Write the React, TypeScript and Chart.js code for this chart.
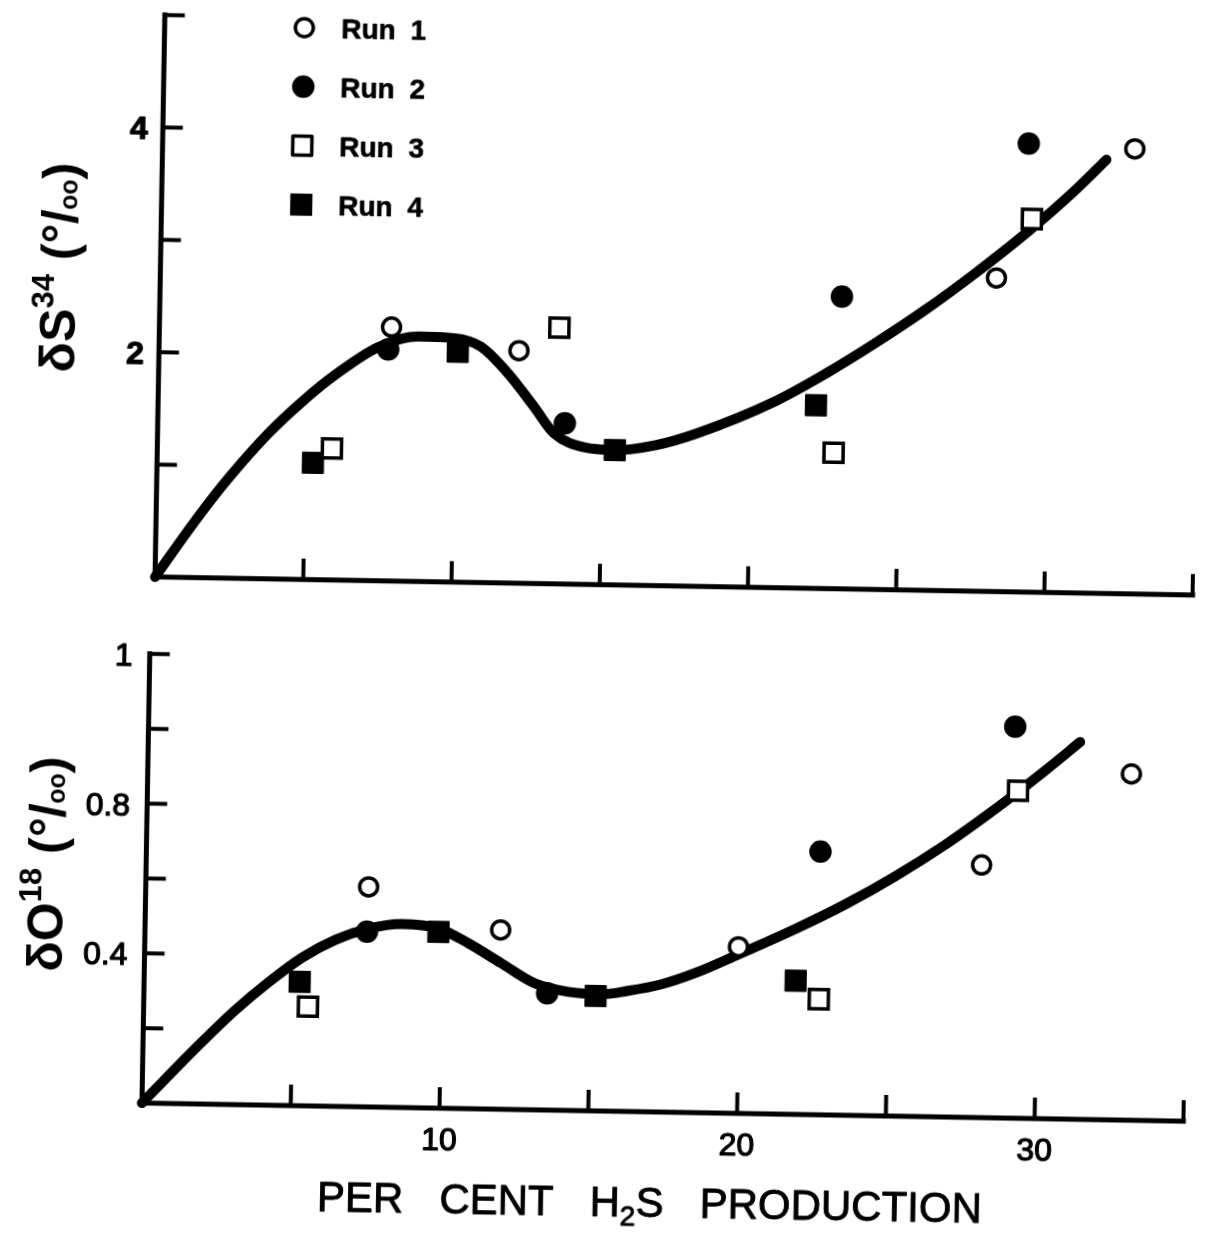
import { useEffect, useRef } from "react";
import { Chart, registerables } from "chart.js";

Chart.register(...registerables);

const FONT = '"Liberation Sans", Arial, sans-serif';

// Legend entries
const runLabels = ["Run 1", "Run 2", "Run 3", "Run 4"];

// Shared x axis: per cent H2S production
const xMin = 0;
const xMax = 35;
const xTickValues = [5, 10, 15, 20, 25, 30, 35];
const xTickLabelsTop = ["", "", "", "", "", "", ""];
const xTickLabelsBottom = ["", "10", "", "20", "", "30", ""];

// Upper panel: delta S34 (per mil)
const sYMax = 5;
const sYTickValues = [1, 2, 3, 4, 5];
const sYTickLabels = ["", "2", "", "4", ""];
const sRun1X = [7.83, 12.14, 28.2, 32.79];
const sRun1Y = [2.26, 2.07, 2.79, 3.96];
const sRun2X = [7.73, 13.73, 23.0, 29.21];
const sRun2Y = [2.06, 1.43, 2.6, 3.99];
const sRun3X = [5.89, 13.49, 22.81, 29.36];
const sRun3Y = [1.17, 2.28, 1.21, 3.32];
const sRun4X = [5.26, 10.08, 15.43, 22.19];
const sRun4Y = [1.04, 2.05, 1.2, 1.63];
const sCurveX = [0, 1.47, 2.45, 3.76, 4.85, 5.98, 7.4, 8.73, 9.97, 10.85, 11.77, 12.69, 13.37, 14.39, 15.39, 16.8, 18.17, 20.82, 22.48, 24.14, 25.79, 27.44, 29.2, 30.75, 31.84];
const sCurveY = [0, 0.56, 0.9, 1.3, 1.58, 1.83, 2.08, 2.18, 2.17, 2.1, 1.87, 1.57, 1.34, 1.22, 1.2, 1.25, 1.36, 1.66, 1.91, 2.19, 2.49, 2.82, 3.2, 3.57, 3.86];

// Lower panel: delta O18 (per mil)
const oYMax = 1.2;
const oYTickValues = [0.2, 0.4, 0.6, 0.8, 1.0, 1.2];
const oYTickLabels = ["", "0.4", "", "0.8", "", "1"];
const oRun1X = [7.49, 11.95, 19.95, 28.07, 33.05];
const oRun1Y = [0.588, 0.479, 0.445, 0.675, 0.925];
const oRun2X = [7.46, 13.55, 22.65, 29.12];
const oRun2Y = [0.468, 0.312, 0.703, 1.046];
const oRun3X = [5.52, 22.68, 29.25];
const oRun3Y = [0.265, 0.309, 0.875];
const oRun4X = [5.23, 9.86, 15.18, 21.89];
const oRun4Y = [0.331, 0.471, 0.307, 0.357];
const oCurveX = [0, 1.91, 3.05, 4.21, 5.3, 6.41, 7.46, 8.63, 9.86, 10.87, 11.99, 13.12, 14.24, 15.35, 16.24, 17.41, 18.57, 19.96, 21.89, 23.55, 25.2, 26.85, 27.95, 29.22, 30.15, 31.31];
const oCurveY = [0, 0.16, 0.25, 0.33, 0.396, 0.445, 0.475, 0.49, 0.48, 0.442, 0.39, 0.338, 0.317, 0.312, 0.322, 0.342, 0.375, 0.425, 0.497, 0.565, 0.642, 0.728, 0.792, 0.87, 0.93, 1.008];

type Marker = { style: "circle" | "rect"; radius: number; fill: string; border: number };

const runMarkers: Marker[] = [
  { style: "circle", radius: 9, fill: "#fff", border: 3.5 },
  { style: "circle", radius: 10.5, fill: "#000", border: 1.5 },
  { style: "rect", radius: 13.5, fill: "#fff", border: 3.5 },
  { style: "rect", radius: 15, fill: "#000", border: 1 },
];

type Piece = { text: string; size: number; weight?: string; dy?: number };

type PanelSpec = {
  top: number;
  height: number;
  padding: { left: number; right: number; top: number; bottom: number };
  runs: { x: number[]; y: number[] }[];
  curveX: number[];
  curveY: number[];
  yMax: number;
  yTicks: number[];
  yLabels: string[];
  yLabelFont: string;
  yLabelGap: number;
  xLabels: string[];
  title: Piece[];
  titleX: number;
  titleY: number;
  legend: boolean;
  xTitle: boolean;
};

const zip = (xs: number[], ys: number[]) => xs.map((x, i) => ({ x, y: ys[i] }));

function pieceFont(p: Piece) {
  return `${p.weight ?? "normal"} ${p.size}px ${FONT}`;
}

function measurePieces(ctx: CanvasRenderingContext2D, pieces: Piece[]) {
  return pieces.map((p) => {
    ctx.font = pieceFont(p);
    return ctx.measureText(p.text).width;
  });
}

// Filled text with an optional thin outline to give a heavier stroke
function heavyText(ctx: CanvasRenderingContext2D, text: string, x: number, y: number, stroke: number) {
  ctx.fillText(text, x, y);
  if (stroke > 0) {
    ctx.lineWidth = stroke;
    ctx.lineJoin = "round";
    ctx.strokeStyle = "#000";
    ctx.strokeText(text, x, y);
  }
}

function drawPieces(ctx: CanvasRenderingContext2D, pieces: Piece[], x: number, y: number, stroke = 0) {
  const widths = measurePieces(ctx, pieces);
  let cx = x;
  pieces.forEach((p, i) => {
    ctx.font = pieceFont(p);
    heavyText(ctx, p.text, cx, y + (p.dy ?? 0), stroke);
    cx += widths[i];
  });
  return cx - x;
}

function drawMarker(ctx: CanvasRenderingContext2D, m: Marker, x: number, y: number) {
  ctx.beginPath();
  if (m.style === "circle") {
    ctx.arc(x, y, m.radius, 0, Math.PI * 2);
  } else {
    const h = m.radius * Math.SQRT1_2;
    ctx.rect(x - h, y - h, 2 * h, 2 * h);
  }
  ctx.fillStyle = m.fill;
  ctx.fill();
  ctx.lineWidth = m.border;
  ctx.strokeStyle = "#000";
  ctx.stroke();
}

function framePlugin(spec: PanelSpec) {
  return {
    id: "frame",
    afterDraw(chart: Chart) {
      const ctx = chart.ctx;
      const xs = chart.scales.x;
      const ys = chart.scales.y;
      const L = xs.getPixelForValue(xMin);
      const R = xs.getPixelForValue(xMax);
      const B = ys.getPixelForValue(0);
      const T = ys.getPixelForValue(spec.yMax);
      ctx.save();
      ctx.strokeStyle = "#000";
      ctx.fillStyle = "#000";

      // axis lines
      ctx.lineWidth = 5;
      ctx.lineCap = "square";
      ctx.lineJoin = "miter";
      ctx.beginPath();
      ctx.moveTo(L, T);
      ctx.lineTo(L, B);
      ctx.lineTo(R, B);
      ctx.stroke();

      // inward tick marks
      ctx.lineCap = "butt";
      ctx.lineWidth = 4;
      xTickValues.forEach((v) => {
        const px = xs.getPixelForValue(v);
        ctx.beginPath();
        ctx.moveTo(px, B);
        ctx.lineTo(px, B - 21);
        ctx.stroke();
      });
      spec.yTicks.forEach((v) => {
        const py = ys.getPixelForValue(v);
        ctx.beginPath();
        ctx.moveTo(L, py);
        ctx.lineTo(L + 20, py);
        ctx.stroke();
      });

      // tick labels
      ctx.textBaseline = "alphabetic";
      ctx.textAlign = "right";
      ctx.font = spec.yLabelFont;
      spec.yTicks.forEach((v, i) => {
        if (!spec.yLabels[i]) return;
        const py = ys.getPixelForValue(v);
        heavyText(ctx, spec.yLabels[i], L - spec.yLabelGap, py + 12, 1.2);
      });
      ctx.textAlign = "center";
      ctx.font = `normal 32px ${FONT}`;
      xTickValues.forEach((v, i) => {
        if (!spec.xLabels[i]) return;
        const px = xs.getPixelForValue(v);
        heavyText(ctx, spec.xLabels[i], px, B + 30 + 11.5, 1.2);
      });

      // rotated y title
      ctx.textAlign = "left";
      ctx.save();
      ctx.translate(spec.titleX, spec.titleY);
      ctx.rotate(-Math.PI / 2);
      const tw = measurePieces(ctx, spec.title).reduce((a, b) => a + b, 0);
      drawPieces(ctx, spec.title, -tw / 2, 0);
      ctx.restore();

      // x title
      if (spec.xTitle) {
        const words: Piece[][] = [
          [{ text: "PER", size: 42 }],
          [{ text: "CENT", size: 42 }],
          [
            { text: "H", size: 42 },
            { text: "2", size: 28, dy: 9 },
            { text: "S", size: 42 },
          ],
          [{ text: "PRODUCTION", size: 42 }],
        ];
        const widths = words.map((w) => measurePieces(ctx, w).reduce((a, b) => a + b, 0));
        const x0 = 327;
        const x1 = 992;
        const gap = (x1 - x0 - widths.reduce((a, b) => a + b, 0)) / (words.length - 1);
        let cx = x0;
        ctx.fillStyle = "#000";
        words.forEach((w, i) => {
          drawPieces(ctx, w, cx, 596, 0.9);
          cx += widths[i] + gap;
        });
      }

      // legend
      if (spec.legend) {
        runLabels.forEach((label, i) => {
          const cy = 33 + i * 59;
          drawMarker(ctx, runMarkers[i], 294, cy);
          ctx.fillStyle = "#000";
          ctx.font = `bold 28px ${FONT}`;
          ctx.textAlign = "left";
          (ctx as any).wordSpacing = "7px";
          heavyText(ctx, label, 331, cy + 10, 0.6);
          (ctx as any).wordSpacing = "0px";
        });
      }
      ctx.restore();
    },
  };
}

function buildDatasets(spec: PanelSpec) {
  const markers = spec.runs.map((r, i) => ({
    label: runLabels[i],
    data: zip(r.x, r.y),
    showLine: false,
    pointStyle: runMarkers[i].style,
    pointRadius: runMarkers[i].radius,
    pointBackgroundColor: runMarkers[i].fill,
    pointBorderColor: "#000",
    pointBorderWidth: runMarkers[i].border,
    clip: false as const,
  }));
  const curve = {
    label: "fit",
    data: zip(spec.curveX, spec.curveY),
    showLine: true,
    borderColor: "#000",
    borderWidth: 10,
    borderCapStyle: "round" as const,
    borderJoinStyle: "round" as const,
    cubicInterpolationMode: "monotone" as const,
    pointRadius: 0,
    fill: false,
    clip: false as const,
  };
  // curve last so it is painted beneath the markers
  return [...markers, curve];
}

function Panel({ spec }: { spec: PanelSpec }) {
  const ref = useRef<HTMLCanvasElement>(null);
  useEffect(() => {
    const canvas = ref.current;
    if (!canvas) return;
    const chart = new Chart(canvas, {
      type: "scatter",
      data: { datasets: buildDatasets(spec) as any },
      options: {
        responsive: false,
        animation: false,
        devicePixelRatio: 1,
        events: [],
        layout: { padding: spec.padding },
        scales: {
          x: { type: "linear", min: xMin, max: xMax, display: false },
          y: { type: "linear", min: 0, max: spec.yMax, display: false },
        },
        plugins: { legend: { display: false }, tooltip: { enabled: false } },
      },
      plugins: [framePlugin(spec) as any],
    });
    return () => chart.destroy();
  }, [spec]);
  return (
    <canvas
      ref={ref}
      width={1209}
      height={spec.height}
      style={{ position: "absolute", left: 0, top: spec.top, width: 1209, height: spec.height }}
    />
  );
}

const upperPanel: PanelSpec = {
  top: 0,
  height: 620,
  padding: { left: 154.3, right: 9.6, top: 22.8, bottom: 35.2 },
  runs: [
    { x: sRun1X, y: sRun1Y },
    { x: sRun2X, y: sRun2Y },
    { x: sRun3X, y: sRun3Y },
    { x: sRun4X, y: sRun4Y },
  ],
  curveX: sCurveX,
  curveY: sCurveY,
  yMax: sYMax,
  yTicks: sYTickValues,
  yLabels: sYTickLabels,
  yLabelFont: `bold 32px ${FONT}`,
  yLabelGap: 15,
  xLabels: xTickLabelsTop,
  title: [
    { text: "δS", size: 50, weight: "bold" },
    { text: "34", size: 31, weight: "bold", dy: -22 },
    { text: " (", size: 50, weight: "bold" },
    { text: "°", size: 50, weight: "bold" },
    { text: "/", size: 50, weight: "bold" },
    { text: "oo", size: 25, weight: "bold" },
    { text: ")", size: 50, weight: "bold" },
  ],
  titleX: 70,
  titleY: 277,
  legend: true,
  xTitle: false,
};

const lowerPanel: PanelSpec = {
  top: 620,
  height: 627,
  padding: { left: 150.4, right: 11.4, top: 41.8, bottom: 136 },
  runs: [
    { x: oRun1X, y: oRun1Y },
    { x: oRun2X, y: oRun2Y },
    { x: oRun3X, y: oRun3Y },
    { x: oRun4X, y: oRun4Y },
  ],
  curveX: oCurveX,
  curveY: oCurveY,
  yMax: oYMax,
  yTicks: oYTickValues,
  yLabels: oYTickLabels,
  yLabelFont: `normal 32px ${FONT}`,
  yLabelGap: 17,
  xLabels: xTickLabelsBottom,
  title: [
    { text: "δO", size: 50, weight: "bold" },
    { text: "18", size: 31, weight: "bold", dy: -22 },
    { text: " (", size: 50, weight: "bold" },
    { text: "°", size: 50, weight: "bold" },
    { text: "/", size: 50, weight: "bold" },
    { text: "oo", size: 25, weight: "bold" },
    { text: ")", size: 50, weight: "bold" },
  ],
  titleX: 68,
  titleY: 253.7,
  legend: false,
  xTitle: true,
};

export default function App() {
  return (
    <div
      style={{
        position: "absolute",
        left: 0,
        top: 0,
        width: 1209,
        height: 1247,
        overflow: "hidden",
        background: "#fff",
      }}
    >
      <div
        style={{
          position: "absolute",
          left: 0,
          top: 0,
          width: 1209,
          height: 1247,
          transform: "rotate(1deg)",
          transformOrigin: "604px 623px",
        }}
      >
        <Panel spec={upperPanel} />
        <Panel spec={lowerPanel} />
      </div>
    </div>
  );
}
